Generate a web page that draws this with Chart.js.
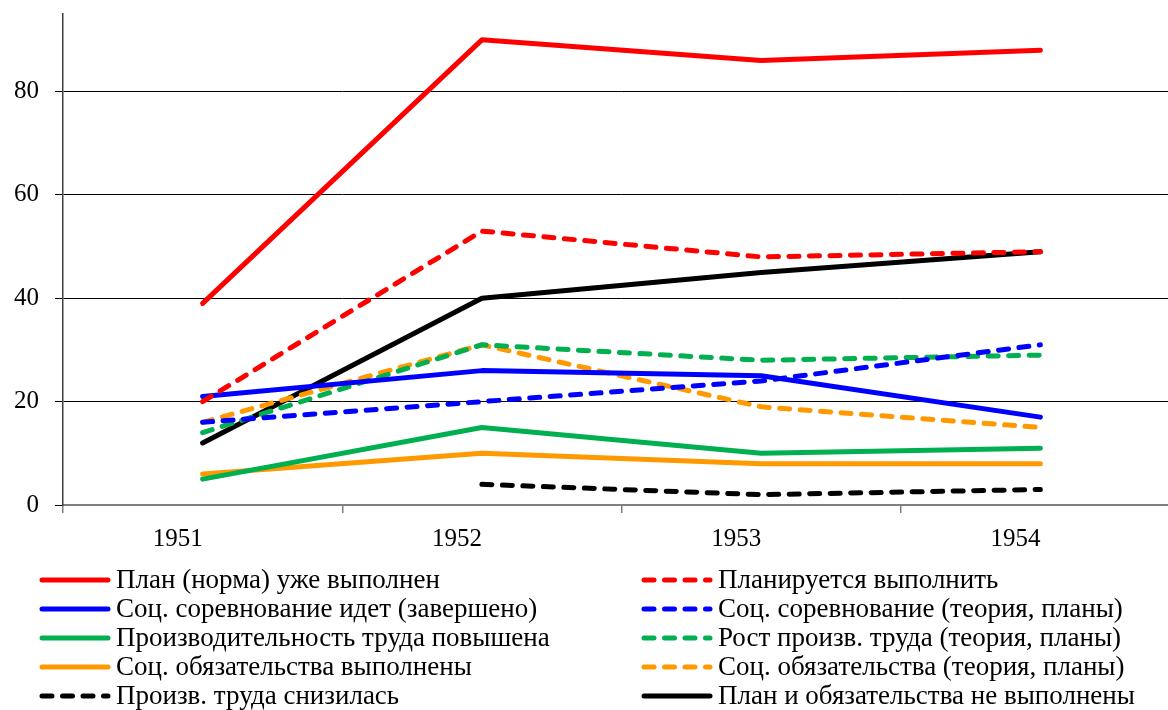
<!DOCTYPE html>
<html>
<head>
<meta charset="utf-8">
<script src="https://cdn.jsdelivr.net/npm/chart.js@4.4.1/dist/chart.umd.min.js"></script>
<style>
  html, body { margin: 0; padding: 0; background: #fff; overflow: hidden; }
  #wrap { width: 1168px; height: 710px; overflow: hidden; }
</style>
</head>
<body>
<div id="wrap"><canvas id="chart" width="1180" height="710"></canvas></div>
<script>
// datos
const years = ['1951', '1952', '1953', '1954'];
const planDone = [39, 90, 86, 88];
const planPlanned = [20, 53, 48, 49];
const compDone = [21, 26, 25, 17];
const compPlanned = [16, 20, 24, 31];
const prodUp = [5, 15, 10, 11];
const prodPlanned = [14, 31, 28, 29];
const oblDone = [6, 10, 8, 8];
const oblPlanned = [16, 31, 19, 15];
const prodDown = [null, 4, 2, 3];
const notDone = [12, 40, 45, 49];
const yTicks = [0, 20, 40, 60, 80];

const RED = '#ff0000', BLUE = '#0000ff', GREEN = '#00b050', ORANGE = '#ff9900', BLACK = '#000000';
const DASH = [10, 10.5];
const LW = 5;
const FONT = '"Liberation Serif", "Times New Roman", serif';

function serie(label, data, color, dashed) {
    return {
        label: label,
        data: data,
        borderColor: color,
        backgroundColor: color,
        borderWidth: LW,
        borderDash: dashed ? DASH : [],
        borderCapStyle: 'round',
        borderJoinStyle: 'round',
        pointRadius: 0,
        pointHoverRadius: 0,
        tension: 0,
        fill: false
    };
}

// orden de la leyenda: fila por fila (izquierda, derecha)
const datasets = [
    serie('План (норма) уже выполнен', planDone, RED, false),
    serie('Планируется выполнить', planPlanned, RED, true),
    serie('Соц. соревнование идет (завершено)', compDone, BLUE, false),
    serie('Соц. соревнование (теория, планы)', compPlanned, BLUE, true),
    serie('Производительность труда повышена', prodUp, GREEN, false),
    serie('Рост произв. труда (теория, планы)', prodPlanned, GREEN, true),
    serie('Соц. обязательства выполнены', oblDone, ORANGE, false),
    serie('Соц. обязательства (теория, планы)', oblPlanned, ORANGE, true),
    serie('Произв. труда снизилась', prodDown, BLACK, true),
    serie('План и обязательства не выполнены', notDone, BLACK, false)
];

//leyenda en dos columnas dibujada debajo del eje
const legendPlugin = {
    id: 'twoColLegend',
    afterDraw(chart) {
        const ctx = chart.ctx;
        const cols = [40, 642];
        const rowY = 580, rowH = 29;
        ctx.save();
        ctx.font = '27px ' + FONT;
        ctx.textBaseline = 'middle';
        ctx.fillStyle = '#000';
        chart.data.datasets.forEach((ds, i) => {
            const x = cols[i % 2];
            const y = rowY + Math.floor(i / 2) * rowH;
            ctx.beginPath();
            ctx.strokeStyle = ds.borderColor;
            ctx.lineWidth = LW;
            ctx.lineCap = 'round';
            ctx.setLineDash(ds.borderDash);
            ctx.moveTo(x + 2, y);
            ctx.lineTo(x + 68, y);
            ctx.stroke();
            ctx.setLineDash([]);
            ctx.fillText(ds.label, x + 76, y + 1);
        });
        ctx.restore();
    }
};

new Chart(document.getElementById('chart'), {
    type: 'line',
    data: { labels: years, datasets: datasets },
    options: {
        responsive: false,
        devicePixelRatio: 1,
        animation: false,
        layout: { padding: 0 },
        plugins: { legend: { display: false }, tooltip: { enabled: false } },
        scales: {
            x: {
                offset: true,
                grid: { offset: true, drawOnChartArea: false, drawTicks: true, tickLength: 8, color: '#808080', lineWidth: 1.5 },
                border: { color: '#808080', width: 2 },
                ticks: { align: 'end', padding: 11, color: '#000', font: { family: FONT, size: 25 }, maxRotation: 0 },
                afterFit(scale) { scale.height = 205; }
            },
            y: {
                min: 0,
                max: 95,
                grid: { color: '#000', lineWidth: 1, tickLength: 8 },
                border: { color: '#404040', width: 1.5 },
                ticks: { stepSize: 20, padding: 16, color: '#000', font: { family: FONT, size: 25 } },
                afterBuildTicks(scale) {
                    scale.ticks = yTicks.map(v => ({ value: v }));
                },
                afterFit(scale) {
                    scale.width = 63;
                    scale.paddingTop = 14;
                    scale.paddingBottom = 0;
                }
            }
        }
    },
    plugins: [legendPlugin]
});
</script>
</body>
</html>
